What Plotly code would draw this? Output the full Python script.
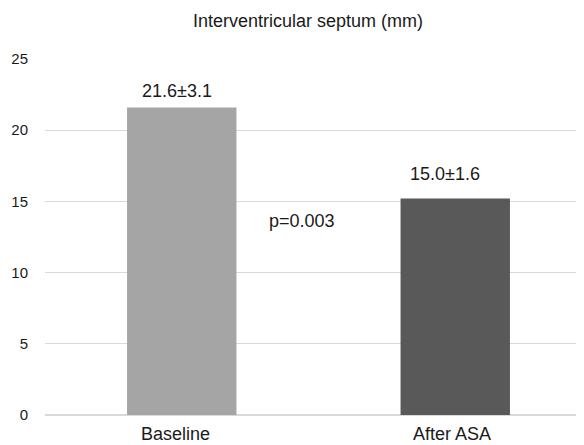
import plotly.graph_objects as go

# values
groups = ["Baseline", "After ASA"]
bar_heights = [21.6, 15.2]
bar_labels = ["21.6±3.1", "15.0±1.6"]
colors = ["#A5A5A5", "#595959"]
p_text = "p=0.003"
y_ticks = [0, 5, 10, 15, 20, 25]

# label placement
label_x = [-0.016, 0.964]
label_y = [22.75, 16.9]
group_x = [-0.024, 0.989]
group_shift = [-19, -19]

font = "Liberation Sans, Arial, sans-serif"
txt = "#1a1a1a"

fig = go.Figure(go.Bar(x=[0, 1], y=bar_heights, marker_color=colors,
                       marker_line_width=0, width=0.4))

# value labels above bars
for x, y, t in zip(label_x, label_y, bar_labels):
    fig.add_annotation(x=x, y=y, text=t, showarrow=False,
                       font=dict(size=18, color=txt))

# category names under the axis (paper y so they are not hidden)
for x, s, t in zip(group_x, group_shift, groups):
    fig.add_annotation(x=x, y=0, yref="paper", yshift=s, yanchor="middle",
                       text=t, showarrow=False, borderpad=0,
                       font=dict(size=18, color=txt))

fig.add_annotation(x=0.44, y=13.6, text=p_text, showarrow=False,
                   font=dict(size=18, color=txt))

fig.update_layout(
    width=584, height=445,
    margin=dict(l=37, r=0, t=51, b=38),
    paper_bgcolor="white", plot_bgcolor="white",
    font=dict(family=font, size=15, color=txt),
    title=dict(text="Interventricular septum (mm)", x=300 / 584, xanchor="center",
               y=1 - 13 / 445, yanchor="middle", font=dict(size=18)),
    showlegend=False,
    xaxis=dict(range=[-0.5, 1.5], showgrid=False, showline=False,
               zeroline=False, ticks="", showticklabels=False),
    yaxis=dict(range=[0, 25], tickvals=y_ticks, gridcolor="#D9D9D9",
               gridwidth=1, zeroline=True, zerolinecolor="#D9D9D9",
               showline=False, ticks="", ticklabelstandoff=16,
               tickfont=dict(size=15)),
)

fig.write_html("out.html")
